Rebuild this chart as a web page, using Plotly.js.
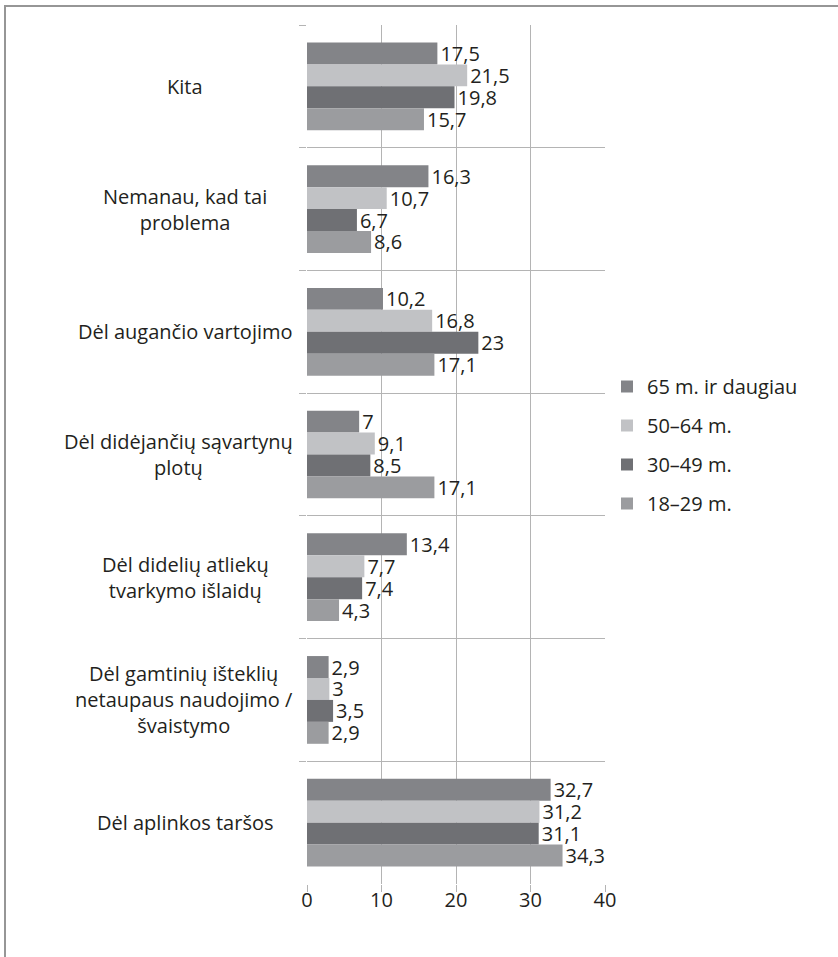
<!DOCTYPE html>
<html>
<head>
<meta charset="utf-8">
<script src="https://cdn.plot.ly/plotly-3.0.1.min.js"></script>
<style>html,body{margin:0;padding:0;background:#fff;}</style>
</head>
<body>
<div id="chart" style="width:838px;height:957px;"></div>
<script>
// Categories, top to bottom
const categories = [
  "Kita",
  "Nemanau, kad tai<br>problema",
  "Dėl augančio vartojimo",
  "Dėl didėjančių sąvartynų<br>plotų",
  "Dėl didelių atliekų<br>tvarkymo išlaidų",
  "Dėl gamtinių išteklių<br>netaupaus naudojimo /<br>švaistymo",
  "Dėl aplinkos taršos"
];
const seriesNames = ["65 m. ir daugiau", "50–64 m.", "30–49 m.", "18–29 m."];
const v65plus = [17.5, 16.3, 10.2, 7, 13.4, 2.9, 32.7];
const v50_64 = [21.5, 10.7, 16.8, 9.1, 7.7, 3, 31.2];
const v30_49 = [19.8, 6.7, 23, 8.5, 7.4, 3.5, 31.1];
const v18_29 = [15.7, 8.6, 17.1, 17.1, 4.3, 2.9, 34.3];
const xTicks = [0, 10, 20, 30, 40];

const seriesValues = [v65plus, v50_64, v30_49, v18_29];
const colors = ["#838488", "#c1c2c5", "#6f7074", "#9b9c9f"];
const FONT = "Open Sans, Noto Sans, sans-serif";
const FS = 20;
const TXT = "#231f20";

const traces = seriesValues.map((vals, i) => ({
  type: "bar",
  orientation: "h",
  name: seriesNames[i],
  legendgroup: "g" + i,
  y: categories,
  x: vals,
  text: vals.map(v => String(v).replace(".", ",")),
  textposition: "outside",
  constraintext: "none",
  cliponaxis: false,
  textfont: {family: FONT, size: FS, color: TXT},
  marker: {color: colors[i], line: {width: 0}},
  hoverinfo: "none"
}));

// plot area geometry (pixels)
const L = 307, R = 605, T = 25, B = 884, W = 838, H = 957;
const pw = R - L, ph = B - T;
const px2x = p => (p - L) / pw;
const py2y = p => 1 - (p - T) / ph;

// measure label widths to place centered category labels
const cv = document.createElement("canvas").getContext("2d");
cv.font = FS + "px " + FONT;
const annotations = categories.map(c => {
  const lines = c.split("<br>");
  const w = Math.max(...lines.map(l => cv.measureText(l).width));
  const center = Math.min(185, 293 - w / 2);
  return {
    xref: "paper", yref: "y", x: px2x(center), y: c,
    xanchor: "center", yanchor: "middle", align: "center",
    text: c, showarrow: false,
    font: {family: FONT, size: FS, color: TXT}
  };
});

const layout = {
  width: W, height: H,
  margin: {l: L, r: W - R, t: T, b: H - B, pad: 0},
  paper_bgcolor: "#fff", plot_bgcolor: "#fff",
  barmode: "group", bargap: 0.285, bargroupgap: 0,
  font: {family: FONT, size: FS, color: TXT},
  showlegend: true,
  legend: {
    x: px2x(607), xanchor: "left", y: py2y(445), yanchor: "middle",
    font: {family: FONT, size: FS, color: TXT},
    traceorder: "grouped", tracegroupgap: 10,
    bgcolor: "rgba(0,0,0,0)"
  },
  xaxis: {
    range: [0, 40], tickvals: xTicks, ticktext: xTicks.map(String),
    showgrid: true, gridcolor: "#b4b4b4", gridwidth: 1,
    zeroline: false, showline: false,
    ticks: "outside", ticklen: 7, tickcolor: "#b4b4b4", tickwidth: 1,
    ticklabelstandoff: -9,
    tickfont: {family: FONT, size: FS, color: TXT},
    fixedrange: true
  },
  yaxis: {
    type: "category", autorange: "reversed",
    tickson: "boundaries", showgrid: true, gridcolor: "#b4b4b4", gridwidth: 1,
    ticks: "outside", ticklen: 7, tickcolor: "#b4b4b4", tickwidth: 1,
    showticklabels: false, zeroline: false, showline: false,
    fixedrange: true
  },
  annotations: annotations,
  shapes: [{
    type: "rect", xref: "paper", yref: "paper",
    x0: px2x(5), x1: px2x(900), y0: py2y(1000), y1: py2y(6),
    line: {color: "#969696", width: 2}, fillcolor: "rgba(0,0,0,0)", layer: "below"
  }]
};

Plotly.newPlot("chart", traces, layout, {displayModeBar: false, staticPlot: true});
</script>
</body>
</html>
